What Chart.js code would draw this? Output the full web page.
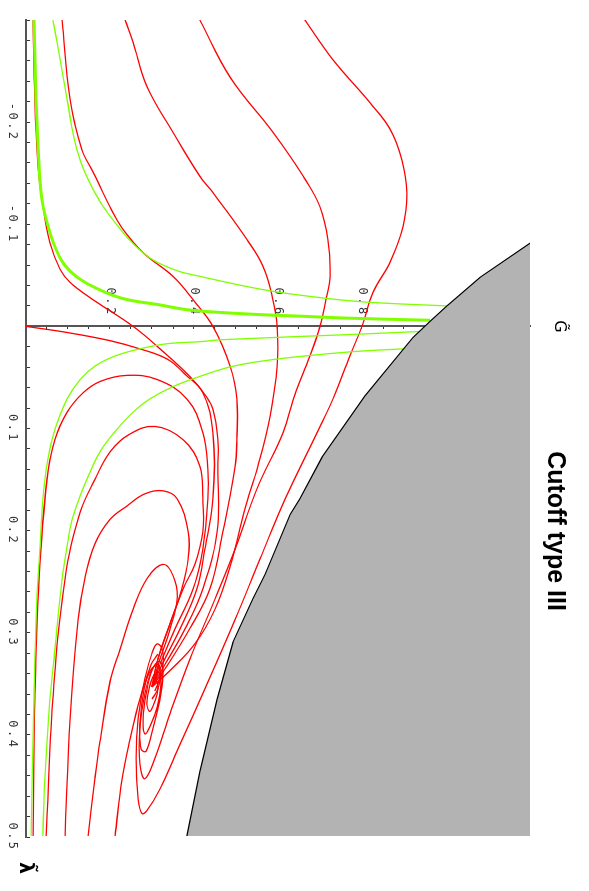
<!DOCTYPE html>
<html>
<head>
<meta charset="utf-8">
<script src="https://cdn.jsdelivr.net/npm/chart.js@4.4.1/dist/chart.umd.min.js"></script>
<style>
  html, body { margin: 0; padding: 0; background: #fff; overflow: hidden; }
  /* the chart is drawn landscape and turned a quarter clockwise */
  #wrap {
    position: absolute; left: 0; top: 0;
    width: 891px; height: 589px;
    transform-origin: 0 0;
    transform: translate(589px, 0) rotate(90deg);
  }
</style>
</head>
<body>
<div id="wrap"><canvas id="flow" width="891" height="589"></canvas></div>
<script>
// axis ranges and tick labels
const lambdaRange = [-0.3, 0.5];
const gRange = [0, 1.2];
const lambdaTickValues = [-0.2, -0.1, 0.1, 0.2, 0.3, 0.4, 0.5];
const lambdaTickLabels = ["-0.2", "-0.1", "0.1", "0.2", "0.3", "0.4", "0.5"];
const gTickValues = [0.2, 0.4, 0.6, 0.8];
const gTickLabels = ["0.2", "0.4", "0.6", "0.8"];

// points are [lambda, G]
// edge of the excluded (grey) region
const cutoffEdge = [[-0.082,1.202],[-0.048,1.081],[-0.020,1.002],[-0.005,0.962],[0.011,0.921],[0.068,0.807],
  [0.128,0.705],[0.169,0.652],[0.184,0.629],[0.243,0.569],[0.267,0.540],[0.309,0.493],[0.365,0.455],
  [0.436,0.414],[0.499,0.383]];

// separatrices (green)
const sepUpperThick = [[-0.300,0.019],[-0.222,0.024],[-0.173,0.029],[-0.124,0.038],[-0.092,0.057],[-0.067,0.081],
  [-0.054,0.105],[-0.042,0.145],[-0.028,0.224],[-0.021,0.319],[-0.016,0.390],[-0.012,0.533],[-0.010,0.652],
  [-0.008,0.771],[-0.006,0.962]];
const sepUpperThin = [[-0.300,0.064],[-0.278,0.074],[-0.222,0.098],[-0.173,0.121],[-0.134,0.160],[-0.108,0.200],
  [-0.072,0.279],[-0.056,0.350],[-0.049,0.414],[-0.036,0.564],[-0.029,0.683],[-0.024,0.802],[-0.020,1.002]];
const sepLowerOuter = [[0.005,0.938],[0.008,0.771],[0.013,0.469],[0.015,0.414],[0.017,0.336],[0.022,0.271],
  [0.029,0.212],[0.039,0.164],[0.052,0.129],[0.071,0.098],[0.101,0.069],[0.130,0.052],[0.169,0.040],
  [0.218,0.033],[0.267,0.026],[0.365,0.019],[0.499,0.012]];
const sepLowerInner = [[0.022,0.898],[0.025,0.771],[0.032,0.598],[0.039,0.493],[0.049,0.414],[0.059,0.350],
  [0.071,0.295],[0.084,0.255],[0.103,0.212],[0.123,0.176],[0.147,0.148],[0.166,0.129],[0.189,0.110],
  [0.215,0.098],[0.247,0.086],[0.316,0.069],[0.365,0.057],[0.443,0.045],[0.499,0.040]];

// trajectories (red)
const trajR1 = [[-0.300,0.017],[-0.222,0.021],[-0.156,0.029],[-0.124,0.038],[-0.082,0.057],[-0.056,0.081],
  [-0.043,0.105],[-0.026,0.160],[0,0.255],[0.022,0.319],[0.049,0.390],[0.067,0.426],[0.081,0.445],
  [0.111,0.457],[0.137,0.457],[0.201,0.455],[0.257,0.421],[0.296,0.379],[0.331,0.331],[0.353,0.300]];
const trajR2 = [[-0.300,0.086],[-0.222,0.105],[-0.173,0.133],[-0.151,0.160],[-0.117,0.200],[-0.095,0.231],
  [-0.072,0.279],[-0.049,0.350],[-0.026,0.398],[0,0.445],[0.039,0.486],[0.071,0.502],[0.111,0.502],
  [0.137,0.498],[0.201,0.469],[0.257,0.438],[0.296,0.390],[0.331,0.338],[0.353,0.300]];
const trajR3 = [[-0.300,0.236],[-0.278,0.255],[-0.235,0.288],[-0.190,0.350],[-0.147,0.414],[-0.131,0.445],
  [-0.085,0.526],[-0.059,0.564],[-0.026,0.588],[0,0.598],[0.039,0.598],[0.088,0.581],[0.137,0.552],
  [0.179,0.521],[0.235,0.486],[0.277,0.450],[0.311,0.402],[0.337,0.343],[0.353,0.300]];
const trajR4 = [[-0.300,0.414],[-0.244,0.486],[-0.190,0.588],[-0.147,0.660],[-0.117,0.700],[-0.085,0.719],
  [-0.049,0.724],[-0.026,0.714],[0,0.700],[0.029,0.676],[0.067,0.640],[0.104,0.612],[0.159,0.550],
  [0.218,0.498],[0.267,0.450],[0.326,0.390],[0.379,0.343],[0.423,0.307],[0.443,0.283],[0.428,0.271],
  [0.394,0.271],[0.360,0.283],[0.336,0.300],[0.331,0.314],[0.343,0.319],[0.357,0.307]];
const trajR5 = [[-0.300,0.664],[-0.261,0.731],[-0.219,0.819],[-0.193,0.867],[-0.163,0.895],[-0.131,0.907],
  [-0.098,0.898],[-0.063,0.867],[-0.033,0.826],[0,0.800],[0.029,0.771],[0.071,0.731],[0.104,0.693],
  [0.169,0.617],[0.228,0.557],[0.287,0.498],[0.355,0.426],[0.409,0.367],[0.453,0.319],[0.474,0.288],
  [0.477,0.276],[0.463,0.267],[0.423,0.262],[0.384,0.267],[0.345,0.283],[0.320,0.300],[0.311,0.312],
  [0.316,0.324],[0.333,0.326],[0.355,0.314],[0.365,0.300]];
const trajR0 = [[0,0],[0.006,0.098],[0.014,0.200],[0.022,0.271],[0.032,0.336],[0.047,0.379],[0.065,0.421],
  [0.104,0.445],[0.169,0.445],[0.218,0.426],[0.257,0.407],[0.296,0.367],[0.331,0.324],[0.353,0.300]];
const trajL1 = [[0.499,0.017],[0.365,0.021],[0.247,0.031],[0.150,0.050],[0.111,0.069],[0.084,0.098],
  [0.065,0.136],[0.054,0.176],[0.048,0.240],[0.052,0.312],[0.071,0.383],[0.104,0.421],[0.140,0.433],
  [0.169,0.433],[0.218,0.421],[0.257,0.398],[0.296,0.355],[0.331,0.319],[0.353,0.300]];
const trajL2 = [[0.499,0.048],[0.365,0.064],[0.247,0.093],[0.182,0.129],[0.150,0.164],[0.123,0.200],
  [0.106,0.245],[0.098,0.307],[0.111,0.374],[0.137,0.414],[0.169,0.421],[0.201,0.421],[0.233,0.402],
  [0.257,0.374],[0.291,0.343],[0.326,0.314],[0.353,0.300]];
const trajL3 = [[0.499,0.093],[0.384,0.105],[0.287,0.124],[0.247,0.140],[0.213,0.164],[0.189,0.200],
  [0.176,0.240],[0.164,0.283],[0.161,0.326],[0.169,0.360],[0.201,0.386],[0.228,0.386],[0.257,0.371],
  [0.291,0.343],[0.326,0.314],[0.353,0.300]];
const trajL4 = [[0.499,0.148],[0.443,0.164],[0.407,0.176],[0.348,0.200],[0.316,0.224],[0.277,0.255],
  [0.247,0.288],[0.233,0.326],[0.244,0.350],[0.267,0.360],[0.296,0.343],[0.326,0.319],[0.353,0.300]];
const trajL5 = [[0.499,0.212],[0.443,0.229],[0.404,0.248],[0.365,0.271],[0.338,0.295],[0.331,0.314],[0.345,0.310]];
const trajSpiral = [[0.353,0.300],[0.347,0.310],[0.355,0.314],[0.367,0.307],[0.377,0.295],[0.370,0.288],
  [0.355,0.293],[0.341,0.305],[0.339,0.317],[0.351,0.321],[0.373,0.312],[0.392,0.295],[0.399,0.283],
  [0.384,0.279],[0.360,0.286],[0.337,0.300],[0.328,0.317],[0.335,0.326],[0.360,0.321],[0.394,0.302],
  [0.416,0.286],[0.414,0.274],[0.389,0.271],[0.355,0.281],[0.331,0.298],[0.321,0.314]];

const redTrajectories = [trajR0, trajR1, trajR2, trajR3, trajR4, trajR5, trajL1, trajL2, trajL3, trajL4, trajL5, trajSpiral];
const greenThin = [sepUpperThin, sepLowerOuter, sepLowerInner];

function toXY(pts) {
  return pts.map(p => ({ x: p[0], y: p[1] }));
}

function curve(pts, color, width) {
  return {
    data: toXY(pts),
    showLine: true,
    borderColor: color,
    borderWidth: width,
    pointRadius: 0,
    tension: 0.4,
    fill: false
  };
}

const datasets = [];
// grey region first so that it is painted over everything else
datasets.push({
  data: toXY(cutoffEdge),
  showLine: true,
  borderColor: "#000000",
  borderWidth: 1.2,
  backgroundColor: "#b3b3b3",
  pointRadius: 0,
  tension: 0,
  fill: "end"
});
datasets.push(curve(sepUpperThick, "#80ff00", 3));
greenThin.forEach(s => datasets.push(curve(s, "#80ff00", 1.3)));
redTrajectories.forEach(t => datasets.push(curve(t, "#ff0000", 1.3)));

const tickFont = { family: "DejaVu Sans Mono", size: 12 };

function pickLabel(values, labels, v) {
  const i = values.findIndex(t => Math.abs(t - v) < 1e-6);
  return i >= 0 ? labels[i] : "";
}

const textPlugin = {
  id: "textPlugin",
  beforeDraw(chart) {
    chart.ctx.letterSpacing = "2.5px";
  },
  afterDraw(chart) {
    const ctx = chart.ctx;
    ctx.save();
    ctx.letterSpacing = "0px";
    ctx.fillStyle = "#000";
    ctx.textAlign = "center";
    ctx.textBaseline = "alphabetic";
    ctx.font = "bold 25px 'Liberation Sans'";
    ctx.fillText("Cutoff type III", 531, 41);
    ctx.font = "16px 'DejaVu Sans'";
    ctx.fillText("G\u0303", chart.scales.x.getPixelForValue(0), 34);
    ctx.font = "bold 19px 'DejaVu Sans'";
    ctx.fillText("\u03BB\u0303", 868, 569);
    ctx.restore();
  }
};

new Chart(document.getElementById("flow"), {
  type: "scatter",
  data: { datasets: datasets },
  options: {
    responsive: false,
    animation: false,
    events: [],
    layout: { padding: { left: 20, right: 54, top: 59, bottom: 0 } },
    plugins: { legend: { display: false }, tooltip: { enabled: false } },
    scales: {
      x: {
        type: "linear",
        position: "bottom",
        min: lambdaRange[0],
        max: lambdaRange[1],
        afterFit: s => { s.height = 26; },
        grid: { drawOnChartArea: false, drawTicks: true, tickLength: -4, color: "#333", lineWidth: 1 },
        border: { display: true, color: "#555", width: 2 },
        ticks: {
          stepSize: 0.02,
          autoSkip: false,
          maxRotation: 0,
          minRotation: 0,
          padding: 11,
          color: "#333",
          font: tickFont,
          callback: v => pickLabel(lambdaTickValues, lambdaTickLabels, v)
        }
      },
      y: {
        type: "linear",
        position: { x: 0 },
        min: gRange[0],
        max: gRange[1],
        afterFit: s => { s.width = 0; },
        grid: { drawOnChartArea: false, drawTicks: true, tickLength: -4, color: "#333", lineWidth: 1 },
        border: { display: true, color: "#555", width: 2 },
        ticks: {
          stepSize: 0.05,
          autoSkip: false,
          color: "#333",
          font: tickFont,
          // labels sit to the left of the crossing axis, one space clear of it
          callback: v => {
            const s = pickLabel(gTickValues, gTickLabels, v);
            return s ? s + " " : "";
          }
        }
      }
    }
  },
  plugins: [textPlugin]
});
</script>
</body>
</html>
